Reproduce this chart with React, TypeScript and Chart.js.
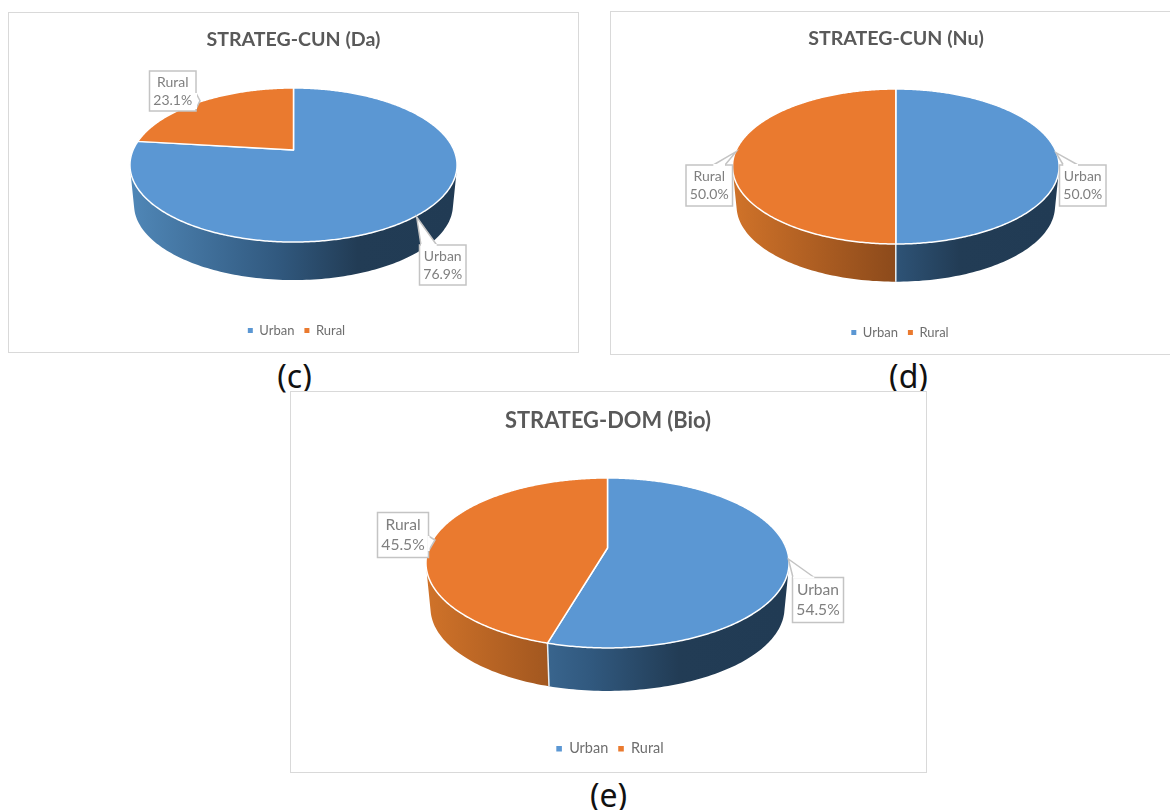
import React, { useEffect, useRef } from "react";
import { Chart, registerables } from "chart.js";

Chart.register(...registerables);

const categories = ["Urban", "Rural"];
const daValues = [76.9, 23.1];
const nuValues = [50.0, 50.0];
const bioValues = [54.5, 45.5];
const topColors = ["#5B97D3", "#EA7A2F"];
const wallStops = [
  [[0, "#4F86B6"], [0.45, "#31597F"], [0.7, "#223C55"], [1, "#213B54"]],
  [[0, "#CF7229"], [0.5, "#8C4A1B"], [1, "#5E3212"]],
];

type Pt = [number, number];
type Callout = { rect: [number, number, number, number]; tip: Pt; base: [Pt, Pt]; index: number };

const panels = [
  {
    key: "c", title: "STRATEG-CUN (Da)", values: daValues,
    box: { x: 8, y: 12, w: 571, h: 341 }, scale: 1,
    pie: { x0: 293.5, y0: 150, a: 160.4, b: 74.1, p: 0.195, dy: 40.3 },
    titleTop: 16, legendBottom: 6, legendShift: 3,
    callouts: [
      { index: 0, rect: [419.5, 245, 46.5, 40], tip: [416.7, 217], base: [[421, 245], [436.7, 245]] },
      { index: 1, rect: [149.5, 71, 46.5, 40], tip: [200, 100.7], base: [[196, 93], [196, 109]] },
    ] as Callout[],
  },
  {
    key: "d", title: "STRATEG-CUN (Nu)", values: nuValues,
    box: { x: 610, y: 11, w: 572, h: 344 }, scale: 1,
    pie: { x0: 895.8, y0: 151, a: 160, b: 74.4, p: 0.2, dy: 40 },
    titleTop: 16, legendBottom: 6, legendShift: 4,
    callouts: [
      { index: 0, rect: [1059.5, 165, 46.5, 41], tip: [1056, 152.7], base: [[1063.3, 165], [1078, 165]] },
      { index: 1, rect: [686, 165, 46.5, 41], tip: [736, 151.7], base: [[713.3, 165], [725, 165]] },
    ] as Callout[],
  },
  {
    key: "e", title: "STRATEG-DOM (Bio)", values: bioValues,
    box: { x: 290, y: 391, w: 636.5, h: 382 }, scale: 1.115,
    pie: { x0: 607.5, y0: 548, a: 178.7, b: 82.35, p: 0.176, dy: 45.5 },
    titleTop: 17, legendBottom: 7, legendShift: 2,
    callouts: [
      { index: 0, rect: [792.5, 577.5, 51, 45], tip: [788.3, 559], base: [[793, 577.5], [814.3, 577.5]] },
      { index: 1, rect: [377.5, 512.5, 51, 45], tip: [435, 540], base: [[428.5, 536], [428.5, 551]] },
    ] as Callout[],
  },
];

const captions = [
  { text: "(c)", x: 294.5, y: 376 },
  { text: "(d)", x: 908.5, y: 376 },
  { text: "(e)", x: 608.5, y: 795 },
];

const pie3dPlugin = {
  id: "pie3d",
  afterLayout(chart: any, _a: any, o: any) {
    chart.legend.left += o.legendShift;
    chart.legend.right += o.legendShift;
  },
  beforeDatasetsDraw(chart: any, _a: any, o: any) {
    const { pie, box } = o;
    const ctx = chart.ctx;
    const project = (P: any, ang: number, r: number): Pt => {
      const u = Math.cos(ang) * r, v = Math.sin(ang) * r;
      const w = 1 / (1 - pie.p * v);
      return [P.x0 + P.a * u * w - box.x, P.y0 + P.b * v * w - box.y];
    };
    const low = { ...pie, y0: pie.y0 + pie.dy, a: pie.a * 0.975, b: pie.b * 0.975 };
    const meta = chart.getDatasetMeta(0);
    meta.data.forEach((el: any, i: number) => {
      const lo = Math.max(el.startAngle, -0.35);
      const hi = Math.min(el.endAngle, Math.PI + 0.35);
      if (hi > lo) {
        const n = Math.ceil((hi - lo) / 0.02);
        const g = ctx.createLinearGradient(pie.x0 - pie.a - box.x, 0, pie.x0 + pie.a - box.x, 0);
        wallStops[i].forEach(([s, c]: any) => g.addColorStop(s, c));
        ctx.beginPath();
        for (let k = 0; k < n; k++) {
          const a1 = lo + ((hi - lo) * k) / n, a2 = lo + ((hi - lo) * (k + 1)) / n;
          const q = [project(pie, a1, 1), project(pie, a2, 1), project(low, a2, 1), project(low, a1, 1)];
          let area = 0;
          q.forEach((p, j) => {
            const r = q[(j + 1) % 4];
            area += p[0] * r[1] - r[0] * p[1];
          });
          if (area < 0) q.reverse();
          q.forEach((p, j) => (j ? ctx.lineTo(p[0], p[1]) : ctx.moveTo(p[0], p[1])));
          ctx.closePath();
        }
        ctx.fillStyle = g;
        ctx.fill("nonzero");
      }
    });
    meta.data.forEach((el: any) => {
      if (Math.sin(el.startAngle) > 0.1) {
        const a = project(pie, el.startAngle, 1), b = project(low, el.startAngle, 1);
        ctx.beginPath();
        ctx.moveTo(a[0], a[1]);
        ctx.lineTo(b[0], b[1]);
        ctx.strokeStyle = "#E8EEF3";
        ctx.lineWidth = 1.5;
        ctx.stroke();
      }
      el.draw = function (c: any) {
        const n = Math.ceil((this.endAngle - this.startAngle) / 0.01);
        const m = project(pie, 0, 0);
        c.save();
        c.beginPath();
        c.moveTo(m[0], m[1]);
        for (let k = 0; k <= n; k++) {
          const p = project(pie, this.startAngle + ((this.endAngle - this.startAngle) * k) / n, 1);
          c.lineTo(p[0], p[1]);
        }
        c.closePath();
        c.fillStyle = this.options.backgroundColor;
        c.fill();
        c.lineJoin = "round";
        c.strokeStyle = this.options.borderColor;
        c.lineWidth = this.options.borderWidth;
        c.stroke();
        c.restore();
      };
    });
  },
  afterDatasetsDraw(chart: any, _a: any, o: any) {
    const { callouts, box, scale } = o;
    const ctx = chart.ctx;
    const values = chart.data.datasets[0].data;
    ctx.save();
    ctx.translate(-box.x, -box.y);
    callouts.forEach((cb: Callout) => {
      const [x, y, w, h] = cb.rect;
      ctx.fillStyle = "#FFFFFF";
      ctx.strokeStyle = "#C4C4C4";
      ctx.lineWidth = 1.5;
      ctx.fillRect(x, y, w, h);
      ctx.strokeRect(x, y, w, h);
      ctx.beginPath();
      ctx.moveTo(cb.base[0][0], cb.base[0][1]);
      ctx.lineTo(cb.tip[0], cb.tip[1]);
      ctx.lineTo(cb.base[1][0], cb.base[1][1]);
      ctx.closePath();
      ctx.fill();
      ctx.beginPath();
      ctx.moveTo(cb.base[0][0], cb.base[0][1]);
      ctx.lineTo(cb.tip[0], cb.tip[1]);
      ctx.lineTo(cb.base[1][0], cb.base[1][1]);
      ctx.stroke();
      ctx.beginPath();
      ctx.moveTo(cb.base[0][0], cb.base[0][1]);
      ctx.lineTo(cb.base[1][0], cb.base[1][1]);
      ctx.strokeStyle = "#FFFFFF";
      ctx.lineWidth = 2;
      ctx.stroke();
      ctx.fillStyle = "#7F7F7F";
      ctx.font = `${14 * scale}px Lato`;
      ctx.textAlign = "center";
      ctx.textBaseline = "middle";
      const cx = x + w / 2, cy = y + h / 2;
      ctx.fillText(categories[cb.index], cx, cy - 9 * scale);
      ctx.fillText(values[cb.index].toFixed(1) + "%", cx, cy + 9 * scale);
    });
    ctx.restore();
  },
};

function Panel({ cfg }: { cfg: (typeof panels)[number] }) {
  const ref = useRef<HTMLCanvasElement>(null);
  useEffect(() => {
    const chart = new Chart(ref.current!, {
      type: "pie",
      data: {
        labels: categories,
        datasets: [{ data: cfg.values, backgroundColor: topColors, borderColor: "#FFFFFF", borderWidth: 1.5, clip: false } as any],
      },
      plugins: [pie3dPlugin as any],
      options: {
        animation: false,
        responsive: false,
        events: [],
        layout: { padding: { top: cfg.titleTop, bottom: cfg.legendBottom } },
        plugins: {
          tooltip: { enabled: false },
          title: {
            display: true,
            text: cfg.title,
            color: "#595959",
            font: { family: "Lato", size: 19.6 * cfg.scale, weight: "bold" },
            padding: 0,
          },
          legend: {
            position: "bottom",
            labels: {
              color: "#6E6E6E",
              boxWidth: 5 * cfg.scale,
              boxHeight: 5 * cfg.scale,
              padding: 10,
              font: { family: "Lato", size: 13 * cfg.scale },
              generateLabels: () =>
                categories.map((text, i) => ({
                  text,
                  index: i,
                  fillStyle: topColors[i],
                  strokeStyle: "transparent",
                  lineWidth: 0,
                  fontColor: "#6E6E6E",
                  hidden: false,
                })),
            },
          },
          pie3d: { pie: cfg.pie, box: cfg.box, callouts: cfg.callouts, scale: cfg.scale, legendShift: cfg.legendShift },
        } as any,
      },
    });
    return () => chart.destroy();
  }, [cfg]);
  const { x, y, w, h } = cfg.box;
  return (
    <div style={{ position: "absolute", left: x, top: y, width: w, height: h, background: "#fff" }}>
      <canvas ref={ref} width={w} height={h} style={{ position: "absolute", left: 0, top: 0, display: "block" }} />
      <div style={{ position: "absolute", inset: 0, border: "1.5px solid #D9D9D9", boxSizing: "border-box" }} />
    </div>
  );
}

export default function App() {
  useEffect(() => {
    document.body.style.margin = "0";
  }, []);
  return (
    <div style={{ position: "absolute", left: 0, top: 0, width: 1170, height: 810, overflow: "hidden", background: "#fff" }}>
      {captions.map((c) => (
        <div
          key={c.text}
          style={{
            position: "absolute", left: c.x - 40, top: c.y - 22, width: 80, height: 44, lineHeight: "44px",
            textAlign: "center", font: "32px 'Noto Sans'", color: "#111",
          }}
        >
          {c.text}
        </div>
      ))}
      {panels.map((p) => (
        <Panel key={p.key} cfg={p} />
      ))}
    </div>
  );
}
